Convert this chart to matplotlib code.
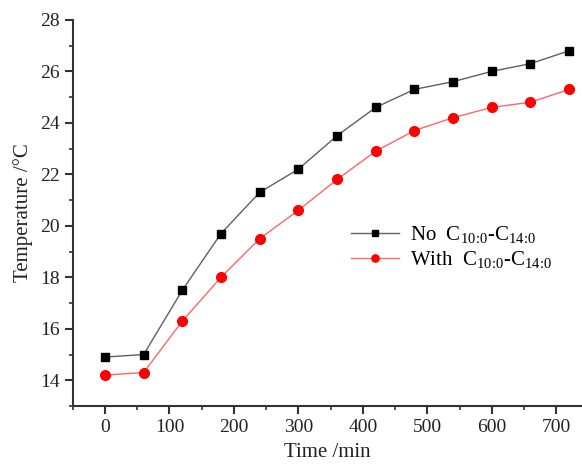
import matplotlib
matplotlib.use("Agg")
import matplotlib.pyplot as plt
from matplotlib.ticker import MultipleLocator

# data
time_min = [0, 60, 120, 180, 240, 300, 360, 420, 480, 540, 600, 660, 720]
temp_no = [14.9, 15.0, 17.5, 19.7, 21.3, 22.2, 23.5, 24.6, 25.3, 25.6, 26.0, 26.3, 26.8]
temp_with = [14.2, 14.3, 16.3, 18.0, 19.5, 20.6, 21.8, 22.9, 23.7, 24.2, 24.6, 24.8, 25.3]

plt.rcParams["font.family"] = ["Liberation Serif", "DejaVu Serif"]
plt.rcParams["mathtext.fontset"] = "custom"
plt.rcParams["mathtext.rm"] = "Liberation Serif"
plt.rcParams["mathtext.it"] = "Liberation Serif"

sub = r"$\mathrm{C_{10\!:\!0}}$-$\mathrm{C_{14\!:\!0}}$"

fig = plt.figure(figsize=(5.82, 4.68), dpi=100)
ax = fig.add_axes([0.125, 0.1325, 0.875, 0.825])

ax.plot(time_min, temp_no, color="#606060", lw=1.0, marker="s", ms=6,
        mfc="black", mec="black", label="No  " + sub)
ax.plot(time_min, temp_with, color="#ff6666", lw=1.0, marker="o", ms=7,
        mfc="red", mec="red", label="With  " + sub)

ax.set_xlim(-50, 740)
ax.set_ylim(13, 28)
ax.xaxis.set_major_locator(MultipleLocator(100))
ax.xaxis.set_minor_locator(MultipleLocator(50))
ax.yaxis.set_major_locator(MultipleLocator(2))
ax.yaxis.set_minor_locator(MultipleLocator(1))

for s in ["top", "right"]:
    ax.spines[s].set_visible(False)
for s in ["left", "bottom"]:
    ax.spines[s].set_linewidth(1.5)
    ax.spines[s].set_color("#333333")

ax.tick_params(which="major", direction="out", length=6, width=1.5, colors="#333333",
               labelsize=14, labelcolor="#222222")
ax.tick_params(which="minor", direction="out", length=3, width=1.2, colors="#333333")

ax.set_xlabel("Time /min", fontsize=15, color="#222222", labelpad=5)
ax.set_ylabel("Temperature /°C", fontsize=15, color="#222222", labelpad=5)

leg = ax.legend(loc="upper left", bbox_to_anchor=(0.51, 0.52), frameon=False,
                fontsize=15, handlelength=2.3, handletextpad=0.5,
                markerscale=0.75, labelspacing=0.2)

fig.savefig("out.png", dpi=100)
